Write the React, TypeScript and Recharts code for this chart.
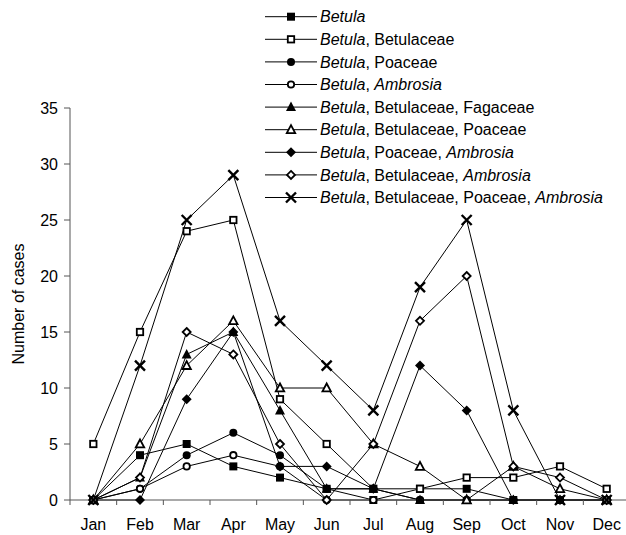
import React from 'react';
import { LineChart, Line, XAxis, YAxis, Legend } from 'recharts';

const months = ['Jan', 'Feb', 'Mar', 'Apr', 'May', 'Jun', 'Jul', 'Aug', 'Sep', 'Oct', 'Nov', 'Dec'];
const yTicks = [0, 5, 10, 15, 20, 25, 30, 35];

const betula = [0, 4, 5, 3, 2, 1, 0, 1, 1, 0, 0, 0];
const betulaBetulaceae = [5, 15, 24, 25, 9, 5, 1, 1, 2, 2, 3, 1];
const betulaPoaceae = [0, 1, 4, 6, 4, 1, 1, 0, 0, 0, 0, 0];
const betulaAmbrosia = [0, 1, 3, 4, 3, 0, 0, 0, 0, 0, 0, 0];
const betulaBetFag = [0, 2, 13, 15, 8, 1, 1, 0, 0, 0, 0, 0];
const betulaBetPoa = [0, 5, 12, 16, 10, 10, 5, 3, 0, 3, 1, 0];
const betulaPoaAmb = [0, 0, 9, 15, 3, 3, 1, 12, 8, 0, 0, 0];
const betulaBetAmb = [0, 2, 15, 13, 5, 0, 5, 16, 20, 3, 2, 0];
const betulaBetPoaAmb = [0, 12, 25, 29, 16, 12, 8, 19, 25, 8, 0, 0];

type Part = { t: string; i?: boolean };
type Series = { key: string; values: number[]; shape: string; label: Part[] };

const series: Series[] = [
  { key: 's1', values: betula, shape: 'sqF', label: [{ t: 'Betula', i: true }] },
  { key: 's2', values: betulaBetulaceae, shape: 'sqO', label: [{ t: 'Betula', i: true }, { t: ', Betulaceae' }] },
  { key: 's3', values: betulaPoaceae, shape: 'ciF', label: [{ t: 'Betula', i: true }, { t: ', Poaceae' }] },
  { key: 's4', values: betulaAmbrosia, shape: 'ciO', label: [{ t: 'Betula', i: true }, { t: ', ' }, { t: 'Ambrosia', i: true }] },
  { key: 's5', values: betulaBetFag, shape: 'trF', label: [{ t: 'Betula', i: true }, { t: ', Betulaceae, Fagaceae' }] },
  { key: 's6', values: betulaBetPoa, shape: 'trO', label: [{ t: 'Betula', i: true }, { t: ', Betulaceae, Poaceae' }] },
  { key: 's7', values: betulaPoaAmb, shape: 'diF', label: [{ t: 'Betula', i: true }, { t: ', Poaceae, ' }, { t: 'Ambrosia', i: true }] },
  { key: 's8', values: betulaBetAmb, shape: 'diO', label: [{ t: 'Betula', i: true }, { t: ', Betulaceae, ' }, { t: 'Ambrosia', i: true }] },
  { key: 's9', values: betulaBetPoaAmb, shape: 'x', label: [{ t: 'Betula', i: true }, { t: ', Betulaceae, Poaceae, ' }, { t: 'Ambrosia', i: true }] },
];

const data = months.map((m, idx) => {
  const row: Record<string, any> = { month: m };
  series.forEach((s) => {
    row[s.key] = s.values[idx];
  });
  return row;
});

const CHART_W = 630;
const CHART_H = 535;
const MARGIN = { top: 108, right: 0, bottom: 5, left: 0 };
const Y_W = 70;
const X_H = 30;
const PLOT_W = CHART_W - MARGIN.left - MARGIN.right - Y_W;
const BAND = PLOT_W / months.length;
const LINE = '#000';
const AXIS = '#555';
const FONT = '"Liberation Sans", Arial, Helvetica, sans-serif';

function Marker({ shape, cx, cy }: { shape: string; cx: number; cy: number }) {
  switch (shape) {
    case 'sqF':
      return <rect x={cx - 4} y={cy - 4} width={8} height={8} fill="#000" />;
    case 'sqO':
      return <rect x={cx - 3.2} y={cy - 3.2} width={6.4} height={6.4} fill="#fff" stroke="#000" strokeWidth={1.8} />;
    case 'ciF':
      return <circle cx={cx} cy={cy} r={4} fill="#000" />;
    case 'ciO':
      return <circle cx={cx} cy={cy} r={3.2} fill="#fff" stroke="#000" strokeWidth={1.8} />;
    case 'trF':
      return <polygon points={`${cx},${cy - 5.5} ${cx + 5},${cy + 4} ${cx - 5},${cy + 4}`} fill="#000" />;
    case 'trO':
      return (
        <polygon
          points={`${cx},${cy - 4.5} ${cx + 4.2},${cy + 3.4} ${cx - 4.2},${cy + 3.4}`}
          fill="#fff"
          stroke="#000"
          strokeWidth={1.8}
          strokeLinejoin="miter"
        />
      );
    case 'diF':
      return <polygon points={`${cx},${cy - 5} ${cx + 5},${cy} ${cx},${cy + 5} ${cx - 5},${cy}`} fill="#000" />;
    case 'diO':
      return (
        <polygon
          points={`${cx},${cy - 4} ${cx + 4},${cy} ${cx},${cy + 4} ${cx - 4},${cy}`}
          fill="#fff"
          stroke="#000"
          strokeWidth={1.8}
        />
      );
    default:
      return (
        <path
          d={`M${cx - 5},${cy - 5}L${cx + 5},${cy + 5}M${cx + 5},${cy - 5}L${cx - 5},${cy + 5}`}
          stroke="#000"
          strokeWidth={2.4}
          fill="none"
        />
      );
  }
}

const XTick = (props: any) => {
  const { x, y, payload, index } = props;
  const axisY = y - 7;
  const half = BAND / 2;
  return (
    <g>
      <line x1={x - half} x2={x - half} y1={axisY} y2={axisY + 5} stroke={AXIS} strokeWidth={1} />
      {index === months.length - 1 && (
        <line x1={x + half} x2={x + half} y1={axisY} y2={axisY + 5} stroke={AXIS} strokeWidth={1} />
      )}
      <text x={x} y={axisY + 30} textAnchor="middle" fontSize={16} fill="#000" fontFamily={FONT}>
        {payload.value}
      </text>
    </g>
  );
};

const ROW0 = 16.7;
const ROW_H = 22.6;

const renderLegend = () => (
  <svg width={362} height={215} style={{ display: 'block', overflow: 'visible' }}>
    {series.map((s, i) => {
      const cy = ROW0 + ROW_H * i;
      return (
        <g key={s.key}>
          <line x1={1} x2={53} y1={cy} y2={cy} stroke={LINE} strokeWidth={1} />
          <Marker shape={s.shape} cx={27} cy={cy} />
          <text x={56} y={cy + 5.6} fontSize={16} fill="#000" fontFamily={FONT}>
            {s.label.map((p, j) => (
              <tspan key={j} fontStyle={p.i ? 'italic' : 'normal'}>
                {p.t}
              </tspan>
            ))}
          </text>
        </g>
      );
    })}
  </svg>
);

export default function App() {
  return (
    <div
      style={{
        position: 'absolute',
        left: 0,
        top: 0,
        width: 626,
        height: 535,
        overflow: 'hidden',
        background: '#fff',
        fontFamily: FONT,
      }}
    >
      <LineChart width={CHART_W} height={CHART_H} data={data} margin={MARGIN}>
        <XAxis
          dataKey="month"
          height={X_H}
          padding={{ left: BAND / 2, right: BAND / 2 }}
          tickSize={5}
          tickMargin={2}
          tickLine={false}
          axisLine={{ stroke: AXIS, strokeWidth: 1 }}
          tick={<XTick />}
          interval={0}
        />
        <YAxis
          width={Y_W}
          domain={[0, 35]}
          ticks={yTicks}
          interval={0}
          tickSize={6}
          tickMargin={6}
          axisLine={{ stroke: AXIS, strokeWidth: 1 }}
          tickLine={{ stroke: AXIS, strokeWidth: 1 }}
          tick={{ fontSize: 16, fill: '#000', fontFamily: FONT }}
          label={{
            value: 'Number of cases',
            angle: -90,
            position: 'insideLeft',
            offset: 18,
            style: { textAnchor: 'middle', fontSize: 16, fill: '#000', fontFamily: FONT },
          }}
        />
        <Legend
          content={renderLegend}
          layout="vertical"
          align="center"
          verticalAlign="middle"
          wrapperStyle={{ top: 0, left: 264, width: 362, height: 215 }}
        />
        {series.map((s) => (
          <Line
            key={s.key}
            dataKey={s.key}
            type="linear"
            stroke={LINE}
            strokeWidth={1}
            isAnimationActive={false}
            dot={(p: any) => <Marker key={`${s.key}-${p.index}`} shape={s.shape} cx={p.cx} cy={p.cy} />}
            activeDot={false}
            legendType="none"
          />
        ))}
      </LineChart>
    </div>
  );
}
